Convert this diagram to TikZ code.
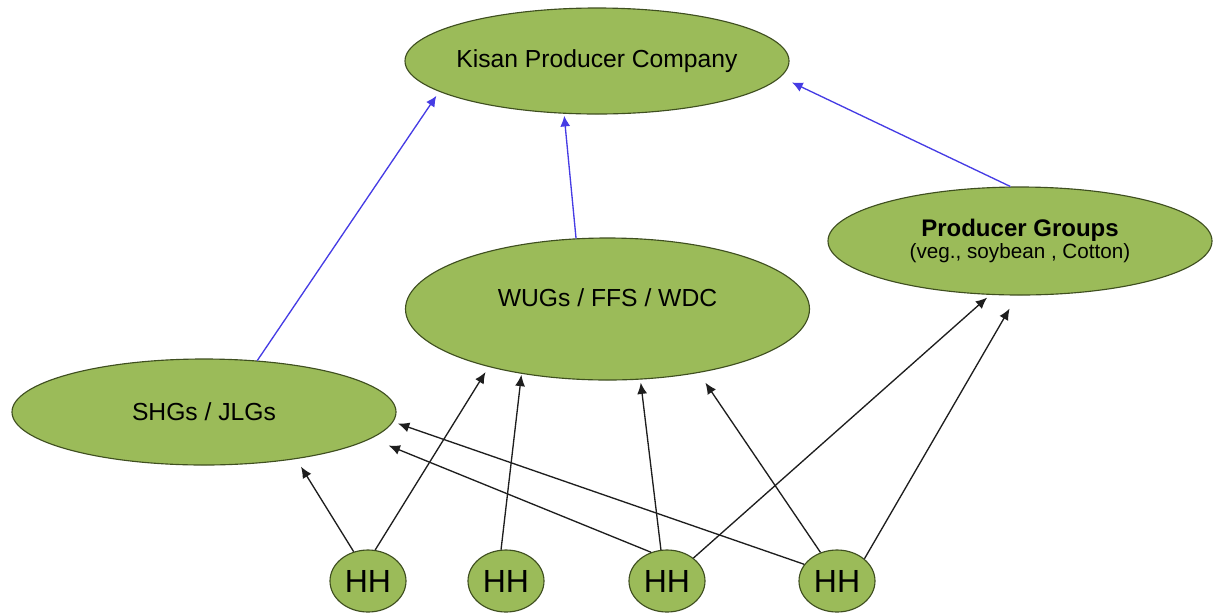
\documentclass[tikz,border=0pt]{standalone}
\usepackage{fontspec}
\setmainfont{Liberation Sans}
\usetikzlibrary{arrows.meta,shapes.geometric}

\definecolor{leaf}{HTML}{9BBB59}
\definecolor{leafedge}{HTML}{3F4F20}
\definecolor{linkblue}{RGB}{70,60,228}
\definecolor{linkgray}{RGB}{30,30,30}

\tikzset{
  groupbox/.style={ellipse, draw=leafedge, line width=0.85pt, fill=leaf,
    inner sep=0pt, text=black},
  bigoval/.style={groupbox, minimum width=288pt, minimum height=79.5pt,
    font=\fontsize{18.5pt}{22pt}\selectfont},
  hhbox/.style={groupbox, minimum width=57pt, minimum height=46.5pt,
    font=\fontsize{24pt}{28pt}\selectfont},
  uplink/.style={draw=linkblue, line width=1pt,
    -{Latex[length=8pt,width=7.5pt]}},
  memberlink/.style={draw=linkgray, line width=1pt,
    -{Latex[length=8.5pt,width=7.5pt]}}
}

\begin{document}
\begin{tikzpicture}[x=0.75pt, y=-0.75pt]
  \useasboundingbox (0,0) rectangle (1215,612);

  % federation level
  \node[bigoval] (kpc) at (597,61) {\makebox[0pt]{Kisan Producer Company}};

  % group level
  \node[bigoval, minimum width=303pt, minimum height=106.5pt,
        label={[yshift=8.25pt, font=\fontsize{18.5pt}{22pt}\selectfont,
                text=black]center:WUGs / FFS / WDC}] (wug) at (607.5,309) {};
  \node[bigoval, minimum height=81pt] (pg) at (1020,241)
    {\makebox[0pt]{\shortstack{\fontsize{18pt}{22pt}\selectfont\bfseries Producer Groups\\[-1pt]
      \fontsize{15.5pt}{18pt}\selectfont (veg., soybean , Cotton)}}};
  \node[bigoval] (shg) at (204,412) {\makebox[0pt]{SHGs / JLGs}};

  % households
  \node[hhbox] (hh1) at (368,581) {HH};
  \node[hhbox] (hh2) at (506,581) {HH};
  \node[hhbox] (hh3) at (667,581) {HH};
  \node[hhbox] (hh4) at (837,581) {HH};

  % groups feeding the producer company
  \draw[uplink, shorten >=3.75pt] (shg.44) -- (kpc.191);
  \draw[uplink, shorten >=1.5pt] (wug.114) -- (kpc.238);
  \draw[uplink, shorten >=9.4pt] (pg.100) -- (kpc.355);

  % household memberships
  \draw[memberlink, shorten >=6.75pt] (hh1.116) -- (shg.333);
  \draw[memberlink, shorten >=4.5pt] (hh1.77) -- (wug.206);
  \draw[memberlink, shorten >=0.75pt] (hh2.99) -- (wug.217);
  \draw[memberlink, shorten >=2.25pt] (hh3.101) -- (wug.295);
  \draw[memberlink, shorten >=14pt] (hh3.119) -- (shg.351);
  \draw[memberlink, shorten >=3pt] (hh3.41) -- (pg.241);
  \draw[memberlink, shorten >=3.75pt] (hh4.153) -- (shg.357);
  \draw[memberlink, shorten >=8.85pt] (hh4.120) -- (wug.325);
  \draw[memberlink, shorten >=11.25pt] (hh4.39) -- (pg.267);
\end{tikzpicture}
\end{document}
